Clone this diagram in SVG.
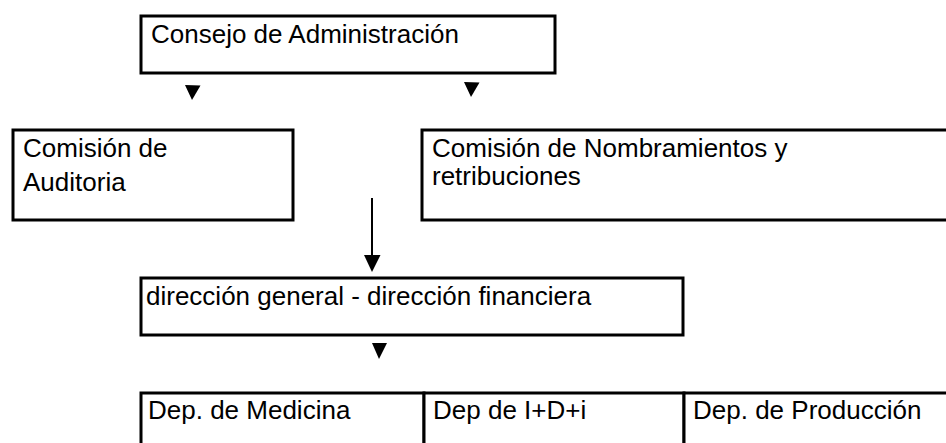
<svg xmlns="http://www.w3.org/2000/svg" width="946" height="443" viewBox="0 0 946 443">
<style>
  .box { fill: #ffffff; stroke: #000000; stroke-width: 3; }
  .lbl { font-family: "Liberation Sans", Arial, sans-serif; font-size: 26px; fill: #000000; }
  .line { stroke: #000000; stroke-width: 2; fill: none; }
  .tri { fill: #000000; }
</style>
<defs>
  <marker id="arrow" markerWidth="16" markerHeight="18" refX="8" refY="17" orient="auto-start-reverse" markerUnits="userSpaceOnUse" viewBox="0 0 16 18">
    <path d="M0,0 L16,0 L8,17 Z" class="tri" transform="rotate(-90 8 9) translate(0 0)"/>
  </marker>
  <path id="tri" d="M0,0 L15.5,0.5 L7,15 Z"/>
</defs>
<rect width="946" height="443" fill="#ffffff"/>

<g id="consejo">
  <rect class="box" x="141" y="16" width="414" height="57"/>
  <text class="lbl" x="151" y="43">Consejo de Administración</text>
</g>

<g id="auditoria">
  <rect class="box" x="13" y="130" width="280" height="90"/>
  <text class="lbl" x="23" y="157">Comisión de</text>
  <text class="lbl" x="23" y="191">Auditoria</text>
</g>

<g id="nombramientos">
  <rect class="box" x="422" y="130" width="540" height="90"/>
  <text class="lbl" x="432" y="157">Comisión de Nombramientos y</text>
  <text class="lbl" x="432" y="185">retribuciones</text>
</g>

<g id="direccion">
  <rect class="box" x="141" y="278" width="542" height="57"/>
  <text class="lbl" x="146" y="305">dirección general - dirección financiera</text>
</g>

<g id="medicina">
  <rect class="box" x="141" y="393" width="283" height="70"/>
  <text class="lbl" x="148" y="419">Dep. de Medicina</text>
</g>

<g id="idi">
  <rect class="box" x="424" y="393" width="260" height="70"/>
  <text class="lbl" x="433" y="419">Dep de I+D+i</text>
</g>

<g id="produccion">
  <rect class="box" x="684" y="393" width="280" height="70"/>
  <text class="lbl" x="693" y="419">Dep. de Producción</text>
</g>

<g id="connectors">
  <use href="#tri" class="tri" transform="translate(185 85)"/>
  <use href="#tri" class="tri" transform="translate(464 82)"/>
  <line class="line" x1="372" y1="198" x2="372" y2="258"/>
  <path class="tri" d="M364,255 L380.5,255 L372,272 Z"/>
  <path class="tri" d="M372,343 L387,343 L379,359 Z"/>
</g>
</svg>
